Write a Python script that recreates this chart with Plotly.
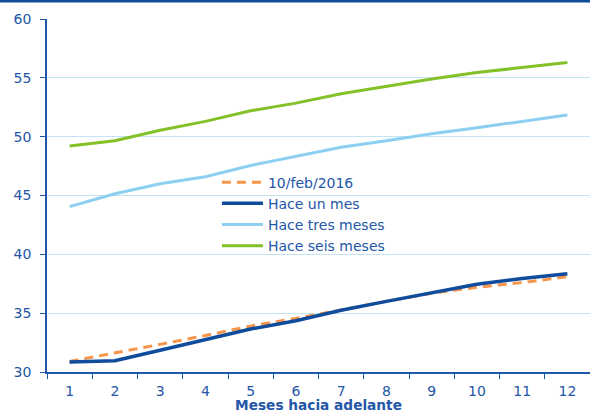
import plotly.graph_objects as go

# Months ahead (category axis)
meses = [str(m) for m in range(1, 13)]

# Expected values by horizon for each survey date
feb_2016 = [30.9, 31.6, 32.35, 33.1, 33.9, 34.55, 35.3, 36.0, 36.7, 37.2, 37.6, 38.1]
hace_un_mes = [30.85, 30.95, 31.85, 32.75, 33.65, 34.35, 35.25, 36.0, 36.75, 37.45, 37.95, 38.35]
hace_tres_meses = [44.05, 45.15, 46.0, 46.6, 47.55, 48.3, 49.1, 49.65, 50.25, 50.75, 51.3, 51.85]
hace_seis_meses = [49.2, 49.65, 50.55, 51.3, 52.2, 52.85, 53.65, 54.3, 54.9, 55.45, 55.9, 56.3]

y_ticks = [30, 35, 40, 45, 50, 55, 60]

AXIS_BLUE = "#1f56a8"
TEXT_BLUE = "#2356a8"
GRID_BLUE = "#c3e4f4"
FONT = "DejaVu Sans, Liberation Sans, Arial, sans-serif"

fig = go.Figure()
fig.add_trace(go.Scatter(x=meses, y=feb_2016, name="10/feb/2016", mode="lines",
                         line=dict(color="#f7954a", width=3, dash="9px,6px")))
fig.add_trace(go.Scatter(x=meses, y=hace_un_mes, name="Hace un mes", mode="lines",
                         line=dict(color="#0f4c9c", width=3.5)))
fig.add_trace(go.Scatter(x=meses, y=hace_tres_meses, name="Hace tres meses", mode="lines",
                         line=dict(color="#8ccff1", width=3)))
fig.add_trace(go.Scatter(x=meses, y=hace_seis_meses, name="Hace seis meses", mode="lines",
                         line=dict(color="#82c127", width=3)))

fig.update_layout(
    width=590, height=413,
    margin=dict(l=47, r=0, t=19, b=41),
    paper_bgcolor="white", plot_bgcolor="white",
    font=dict(family=FONT, size=14, color=TEXT_BLUE),
    showlegend=True,
    legend=dict(x=0.313, y=0.582, xanchor="left", yanchor="top",
                bgcolor="rgba(0,0,0,0)", font=dict(family=FONT, size=14, color=TEXT_BLUE),
                tracegroupgap=0, itemwidth=41),
    xaxis=dict(
        type="category", range=[-0.5, 11.5], showgrid=False, showline=True,
        linecolor=AXIS_BLUE, linewidth=1.5,
        ticks="outside", tickson="boundaries", ticklen=5, tickcolor=AXIS_BLUE,
        tickfont=dict(family=FONT, size=14, color=TEXT_BLUE), ticklabelstandoff=5,
        title=dict(text="<b>Meses hacia adelante</b>",
                   font=dict(family=FONT, size=13.7, color=TEXT_BLUE), standoff=1),
        fixedrange=True,
    ),
    yaxis=dict(
        range=[30, 60], tickvals=y_ticks, showgrid=True, gridcolor=GRID_BLUE, gridwidth=1,
        showline=True, linecolor=AXIS_BLUE, linewidth=1.5, zeroline=False,
        ticks="outside", ticklen=5, tickcolor=AXIS_BLUE,
        tickfont=dict(family=FONT, size=14, color=TEXT_BLUE), ticklabelstandoff=6,
    ),
)

# Dark band along the top edge of the page
fig.add_shape(type="rect", xref="paper", yref="paper",
              x0=-47 / 543, x1=1.0, y0=1 + 16.5 / 353, y1=1 + 19 / 353,
              fillcolor="#0f4c9c", line=dict(width=0), layer="above")

fig.write_html("out.html")
